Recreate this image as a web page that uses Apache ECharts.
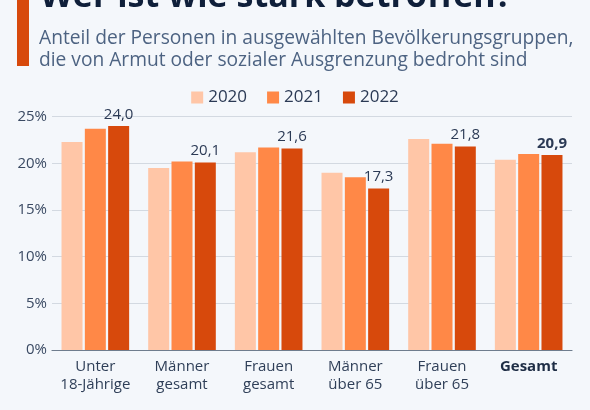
<!DOCTYPE html>
<html>
<head>
<meta charset="utf-8">
<script src="https://cdn.jsdelivr.net/npm/echarts@6/dist/echarts.min.js"></script>
<style>
html,body{margin:0;padding:0;background:#f4f7fb;}
#c{width:590px;height:410px;}
</style>
</head>
<body>
<div id="c"></div>
<script>
const titleText = 'Wer ist wie stark betroffen?';
const subtitleText = 'Anteil der Personen in ausgewählten Bevölkerungsgruppen,\ndie von Armut oder sozialer Ausgrenzung bedroht sind';
const categories = ['Unter\n18-Jährige', 'Männer\ngesamt', 'Frauen\ngesamt', 'Männer\nüber 65', 'Frauen\nüber 65', 'Gesamt'];
const seriesNames = ['2020', '2021', '2022'];
const values2020 = [22.3, 19.5, 21.2, 19.0, 22.6, 20.4];
const values2021 = [23.7, 20.2, 21.7, 18.5, 22.1, 21.0];
const values2022 = [24.0, 20.1, 21.6, 17.3, 21.8, 20.9];
const yTicks = [0, 5, 10, 15, 20, 25];
const colors = ['#ffc6a7', '#ff8847', '#d7490c'];

const FONT = '"Open Sans", "Noto Sans", sans-serif';
const chart = echarts.init(document.getElementById('c'), null, {renderer: 'canvas'});

function fmt(v) { return v.toFixed(1).replace('.', ','); }

const data2022 = values2022.map((v, i) => {
  const item = {value: v};
  if (i === categories.length - 1) item.label = {fontWeight: 'bold'};
  return item;
});

const allValues = [values2020, values2021, data2022];

chart.setOption({
  backgroundColor: '#f4f7fb',
  animation: false,
  graphic: [
    {type: 'rect', shape: {x: 17, y: 0, width: 12, height: 66}, style: {fill: '#d7490c'}},
    {type: 'text', x: 40, y: -3, style: {text: titleText, font: 'bold 34px ' + FONT, fill: '#0f1f3a', verticalAlign: 'middle', align: 'left'}},
    {type: 'text', x: 39, y: 28, style: {text: subtitleText, font: '19.2px ' + FONT, fill: '#4d6382', lineHeight: 21.5, verticalAlign: 'top', align: 'left'}}
  ],
  legend: {
    data: seriesNames,
    top: 84,
    left: 'center',
    itemWidth: 12,
    itemHeight: 12,
    itemGap: 20,
    icon: 'rect',
    textStyle: {fontFamily: FONT, fontSize: 17, color: '#2b3a55', padding: [0, 0, 0, 0]}
  },
  grid: {left: 52, right: 18, top: 116.7, bottom: 60, containLabel: false},
  xAxis: {
    type: 'category',
    data: categories,
    axisLine: {lineStyle: {color: '#6f7d8e', width: 1.2}},
    axisTick: {show: false},
    axisLabel: {
      interval: 0,
      fontFamily: FONT, fontSize: 15, color: '#2f3f58', lineHeight: 18.5, margin: 7,
      formatter: function (v, i) { return i === categories.length - 1 ? '{b|' + v + '}' : v; },
      rich: {b: {fontFamily: FONT, fontSize: 15, fontWeight: 'bold', color: '#1e2d45', lineHeight: 18.5}}
    }
  },
  yAxis: {
    type: 'value',
    min: yTicks[0],
    max: yTicks[yTicks.length - 1],
    interval: 5,
    axisLine: {show: false},
    axisTick: {show: false},
    splitLine: {lineStyle: {color: '#d3d9e1', width: 1}},
    axisLabel: {fontFamily: FONT, fontSize: 15, color: '#3a4a63', margin: 5, formatter: '{value}%'}
  },
  series: seriesNames.map((name, si) => ({
    name: name,
    type: 'bar',
    data: allValues[si],
    barWidth: 21,
    barGap: '11%',
    itemStyle: {color: colors[si]},
    label: si === 2 ? {
      show: true, position: 'top', distance: 4,
      fontFamily: FONT, fontSize: 15, color: '#2b3a55',
      formatter: p => fmt(p.value)
    } : {show: false}
  }))
});
</script>
</body>
</html>
